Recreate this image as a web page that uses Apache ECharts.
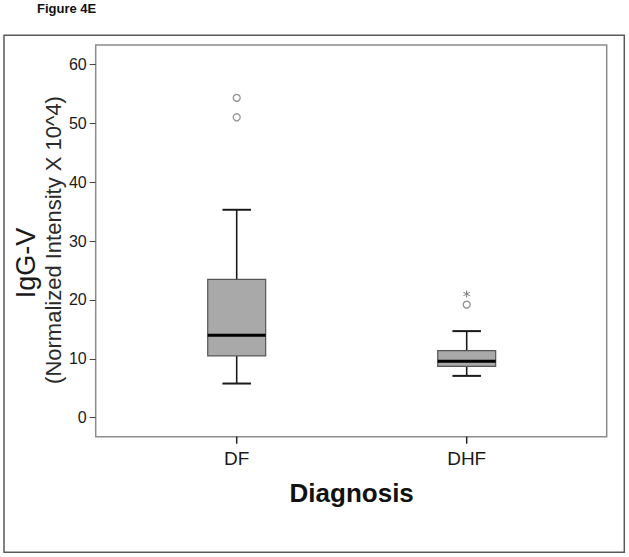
<!DOCTYPE html>
<html>
<head>
<meta charset="utf-8">
<script src="https://cdn.jsdelivr.net/npm/echarts@6.0.0/dist/echarts.min.js"></script>
<style>
html,body{margin:0;padding:0;background:#fff;}
#chart{width:629px;height:557px;}
</style>
</head>
<body>
<div id="chart"></div>
<script>
// ---- data ----
const categories = ['DF', 'DHF'];
const lowWhisker = [5.8, 7.1];
const lowerQuartile = [10.5, 8.7];
const medianValues = [14.0, 9.6];
const upperQuartile = [23.5, 11.4];
const highWhisker = [35.3, 14.7];
const outlierCategory = [0, 0, 1];
const outlierValues = [54.3, 51.0, 19.2];
const extremeCategory = [1];
const extremeValues = [21.0];
const yMin = 0, yMax = 60, yInterval = 10;

const FONT = 'Liberation Sans, Arial, Helvetica, sans-serif';

// layout (pixels)
const frame = { left: 95.7, top: 45, width: 511, height: 391.7 };
const scaleTop = 64.3, scaleBottom = 417.7;
const dataLeft = 121.7, dataWidth = 460;
const tickLength = 7;

const boxData = categories.map((c, i) => [i, lowWhisker[i], lowerQuartile[i], medianValues[i], upperQuartile[i], highWhisker[i]]);
const outlierData = outlierValues.map((v, i) => [outlierCategory[i], v]);
const extremeData = extremeValues.map((v, i) => [extremeCategory[i], v]);
const tickData = categories.map((c, i) => [i, 0, 1]);

const asterisk = 'path://M4.4 0 H5.6 V10 H4.4 Z M9.03 8.02 L9.63 6.98 L0.97 1.98 L0.37 3.02 Z M9.63 3.02 L9.03 1.98 L0.37 6.98 L0.97 8.02 Z';

function renderBox(params, api) {
  const i = api.value(0);
  const pLow = api.coord([i, api.value(1)]);
  const pQ1 = api.coord([i, api.value(2)]);
  const pMed = api.coord([i, api.value(3)]);
  const pQ3 = api.coord([i, api.value(4)]);
  const pHigh = api.coord([i, api.value(5)]);
  const band = api.size([1, 0])[0];
  const hw = band * 0.126;
  const cw = band * 0.062;
  const x = pMed[0];
  const ws = { stroke: '#1a1a1a', lineWidth: 1.6 };
  return {
    type: 'group',
    children: [
      { type: 'line', shape: { x1: x, y1: pHigh[1], x2: x, y2: pQ3[1] }, style: ws },
      { type: 'line', shape: { x1: x, y1: pQ1[1], x2: x, y2: pLow[1] }, style: ws },
      { type: 'line', shape: { x1: x - cw, y1: pHigh[1], x2: x + cw, y2: pHigh[1] }, style: { stroke: '#1a1a1a', lineWidth: 2 } },
      { type: 'line', shape: { x1: x - cw, y1: pLow[1], x2: x + cw, y2: pLow[1] }, style: { stroke: '#1a1a1a', lineWidth: 2 } },
      { type: 'rect', shape: { x: x - hw, y: pQ3[1], width: 2 * hw, height: pQ1[1] - pQ3[1] }, style: { fill: '#a9a9a9', stroke: '#555', lineWidth: 1.2 } },
      { type: 'line', shape: { x1: x - hw, y1: pMed[1], x2: x + hw, y2: pMed[1] }, style: { stroke: '#000', lineWidth: 3 } }
    ]
  };
}

function renderTick(params, api) {
  const i = api.value(0);
  const pA = api.coord([i, api.value(1)]);
  const pB = api.coord([i, api.value(2)]);
  return {
    type: 'line',
    shape: { x1: pA[0], y1: pA[1], x2: pB[0], y2: pB[1] },
    style: { stroke: '#222', lineWidth: 1.5 }
  };
}

const chart = echarts.init(document.getElementById('chart'), null, { renderer: 'svg' });
chart.setOption({
  animation: false,
  backgroundColor: '#fff',
  title: {
    text: 'Figure 4E', left: 37, top: 2, padding: 0,
    textStyle: { fontFamily: FONT, fontSize: 13, fontWeight: 'bold', color: '#111' }
  },
  grid: [
    { left: frame.left, top: frame.top, width: frame.width, height: frame.height, show: true, borderColor: '#8c8c8c', borderWidth: 1.5, backgroundColor: 'transparent' },
    { left: frame.left, top: scaleTop, width: frame.width, height: scaleBottom - scaleTop },
    { left: dataLeft, top: scaleTop, width: dataWidth, height: scaleBottom - scaleTop },
    { left: 4, top: 35.3, width: 620.3, height: 517, show: true, borderColor: '#5a5a5a', borderWidth: 1.5, backgroundColor: 'transparent' },
    { left: dataLeft, top: frame.top, width: dataWidth, height: frame.height },
    { left: dataLeft, top: frame.top + frame.height, width: dataWidth, height: tickLength }
  ],
  xAxis: [
    { gridIndex: 0, type: 'value', show: false },
    { gridIndex: 1, type: 'category', data: categories, show: false },
    { gridIndex: 2, type: 'category', data: categories, show: false },
    { gridIndex: 3, type: 'value', show: false },
    {
      gridIndex: 4, type: 'category', data: categories, position: 'bottom',
      axisLine: { show: false },
      axisTick: { show: false },
      axisLabel: { fontFamily: FONT, fontSize: 19, color: '#1a1a1a', margin: 12 },
      name: 'Diagnosis', nameLocation: 'middle', nameGap: 43,
      nameTextStyle: { fontFamily: FONT, fontSize: 26, fontWeight: 'bold', color: '#111' }
    },
    { gridIndex: 5, type: 'category', data: categories, show: false }
  ],
  yAxis: [
    { gridIndex: 0, type: 'value', show: false },
    {
      gridIndex: 1, type: 'value', min: yMin, max: yMax, interval: yInterval,
      axisLine: { show: false },
      axisTick: { show: true, length: 6, lineStyle: { color: '#444', width: 1 } },
      splitLine: { show: false },
      axisLabel: { fontFamily: FONT, fontSize: 16, color: '#1a1a1a', margin: 9 }
    },
    { gridIndex: 2, type: 'value', min: yMin, max: yMax, show: false },
    { gridIndex: 3, type: 'value', show: false },
    { gridIndex: 4, type: 'value', min: 0, max: 1, show: false },
    { gridIndex: 5, type: 'value', min: 0, max: 1, show: false }
  ],
  graphic: [
    {
      type: 'text', x: 26, y: 263, rotation: Math.PI / 2,
      style: { text: 'IgG-V', font: '27px ' + FONT, align: 'center', verticalAlign: 'middle', fill: '#1a1a1a' }
    },
    {
      type: 'text', x: 53, y: 240, rotation: Math.PI / 2,
      style: { text: '(Normalized Intensity X 10^4)', font: '22px ' + FONT, align: 'center', verticalAlign: 'middle', fill: '#2a2a2a' }
    }
  ],
  series: [
    {
      type: 'custom', xAxisIndex: 2, yAxisIndex: 2,
      renderItem: renderBox, data: boxData,
      encode: { x: 0, y: [1, 2, 3, 4, 5] }
    },
    {
      type: 'scatter', xAxisIndex: 2, yAxisIndex: 2,
      data: outlierData, symbol: 'circle', symbolSize: 7,
      itemStyle: { color: '#fff', borderColor: '#777', borderWidth: 1.3 }
    },
    {
      type: 'scatter', xAxisIndex: 2, yAxisIndex: 2,
      data: extremeData, symbol: asterisk, symbolSize: 7,
      itemStyle: { color: '#333' }
    },
    {
      type: 'custom', xAxisIndex: 5, yAxisIndex: 5, clip: false, silent: true, z: 10,
      renderItem: renderTick, data: tickData,
      encode: { x: 0, y: [1, 2] }
    }
  ]
});
</script>
</body>
</html>
